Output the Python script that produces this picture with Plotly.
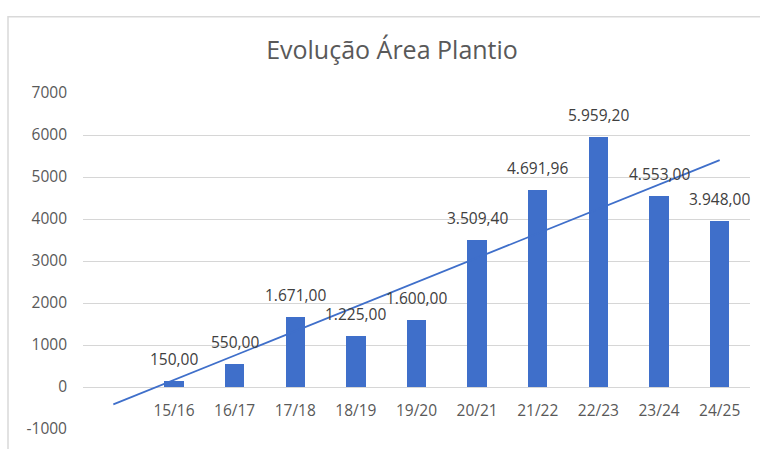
import plotly.graph_objects as go
import numpy as np

categories = ["15/16", "16/17", "17/18", "18/19", "19/20", "20/21", "21/22", "22/23", "23/24", "24/25"]
values = [150.00, 550.00, 1671.00, 1225.00, 1600.00, 3509.40, 4691.96, 5959.20, 4553.00, 3948.00]
y_ticks = [-1000, 0, 1000, 2000, 3000, 4000, 5000, 6000, 7000]

def fmt_br(v):
    s = f"{v:,.2f}"
    return s.replace(",", "X").replace(".", ",").replace("X", ".")

xs = list(range(len(categories)))
BLUE = "#3F6FCA"
FONT = "Open Sans"

fig = go.Figure()
fig.add_trace(go.Bar(x=xs, y=values, width=0.32, marker=dict(color=BLUE, line=dict(width=0)),
                     showlegend=False, hoverinfo="skip"))

# linear trendline with one period backward forecast
m, b = np.polyfit(xs, values, 1)
tx = [-1, xs[-1]]
ty = [m * t + b for t in tx]
fig.add_trace(go.Scatter(x=tx, y=ty, mode="lines", line=dict(color=BLUE, width=1.8),
                         showlegend=False, hoverinfo="skip"))

for x, v in zip(xs, values):
    fig.add_annotation(x=x, y=v, xref="x", yref="y", text=fmt_br(v), showarrow=False,
                       yanchor="bottom", yshift=9,
                       font=dict(family=FONT, size=15.5, color="#404040"))

W, H = 760, 449
L, R, T, B = 83, 750, 93, 432
pw, ph = R - L, B - T

def px_x(p):
    return (p - L) / pw

def px_y(p):
    return (B - p) / ph

# chart border
fig.add_shape(type="rect", xref="paper", yref="paper",
              x0=px_x(8), x1=px_x(775), y0=px_y(470), y1=px_y(16),
              line=dict(color="#d9d9d9", width=1.5), layer="below")

fig.update_layout(
    width=W, height=H,
    margin=dict(l=L, r=W - R, t=T, b=H - B),
    paper_bgcolor="white", plot_bgcolor="white",
    title=dict(text="Evolução Área Plantio", x=392 / W, xref="container", xanchor="center",
               y=1 - 50 / H, yref="container", yanchor="middle",
               font=dict(family=FONT, size=25, color="#595959")),
    bargap=0,
    xaxis=dict(range=[-1.5, 9.5], tickmode="array", tickvals=xs, ticktext=categories,
               showgrid=False, zeroline=False, showline=False, ticks="",
               anchor="free", position=1000 / 8000, ticklabelstandoff=12,
               tickfont=dict(family=FONT, size=15.5, color="#595959")),
    yaxis=dict(range=[-1000, 7000], tickmode="array", tickvals=y_ticks,
               ticktext=[str(t) for t in y_ticks],
               showgrid=True, gridcolor="#d6d6d6", gridwidth=1,
               zeroline=True, zerolinecolor="#d6d6d6", zerolinewidth=1,
               showline=False, ticks="", ticklabelstandoff=15,
               tickfont=dict(family=FONT, size=15.5, color="#595959")),
)

fig.write_html("out.html")
